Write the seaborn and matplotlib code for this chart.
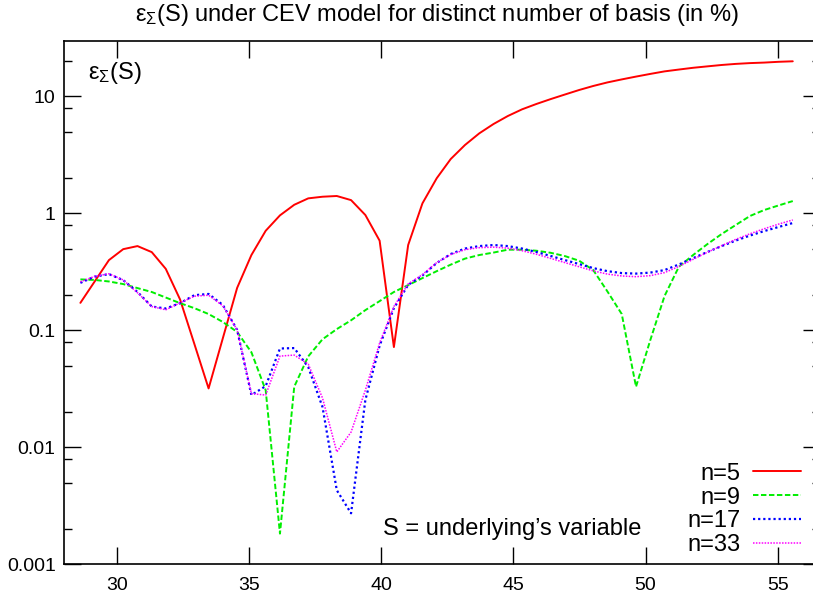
import matplotlib
matplotlib.use("Agg")
import matplotlib.pyplot as plt
import numpy as np
import pandas as pd
import seaborn as sns
from matplotlib.ticker import FixedLocator, FixedFormatter, LogLocator, NullFormatter

# Underlying's variable S (evaluation grid)
s_values = [28.62, 29.16, 29.70, 30.24, 30.78, 31.32, 31.85, 32.39, 32.93, 33.47,
            34.01, 34.55, 35.09, 35.63, 36.17, 36.71, 37.24, 37.78, 38.32, 38.86,
            39.40, 39.94, 40.48, 41.02, 41.56, 42.10, 42.63, 43.17, 43.71, 44.25,
            44.79, 45.33, 45.87, 46.41, 46.95, 47.49, 48.02, 48.56, 49.10, 49.64,
            50.18, 50.72, 51.26, 51.80, 52.34, 52.88, 53.41, 53.95, 54.49, 55.03,
            55.57]

# Relative error (in %) for each number of basis functions
err_n5 = [0.172, 0.262, 0.399, 0.495, 0.526, 0.467, 0.336, 0.184, 0.0768, 0.0319,
          0.0859, 0.231, 0.441, 0.711, 0.963, 1.186, 1.346, 1.39, 1.41, 1.30,
          0.97, 0.585, 0.072, 0.537, 1.22, 2.0, 2.92, 3.85, 4.84, 5.82,
          6.81, 7.77, 8.63, 9.5, 10.4, 11.37, 12.3, 13.2, 14.0, 14.8,
          15.6, 16.4, 17.0, 17.6, 18.1, 18.6, 19.0, 19.3, 19.5, 19.8,
          20.0]
err_n9 = [0.273, 0.27, 0.262, 0.249, 0.23, 0.213, 0.191, 0.171, 0.155, 0.138,
          0.118, 0.097, 0.065, 0.0308, 0.00183, 0.033, 0.06, 0.084, 0.1026, 0.122,
          0.149, 0.178, 0.213, 0.244, 0.28, 0.321, 0.365, 0.411, 0.441, 0.463,
          0.49, 0.49, 0.48, 0.461, 0.432, 0.394, 0.328, 0.215, 0.138, 0.033,
          0.0826, 0.197, 0.35, 0.441, 0.547, 0.667, 0.796, 0.951, 1.07, 1.17,
          1.276]
err_n17 = [0.255, 0.288, 0.303, 0.269, 0.213, 0.16, 0.154, 0.171, 0.2, 0.205,
           0.165, 0.101, 0.028, 0.0334, 0.07, 0.0706, 0.0486, 0.0221, 0.0043, 0.00273,
           0.0254, 0.074, 0.155, 0.245, 0.295, 0.377, 0.45, 0.501, 0.526, 0.537,
           0.526, 0.501, 0.468, 0.433, 0.399, 0.369, 0.341, 0.321, 0.309, 0.306,
           0.312, 0.328, 0.366, 0.415, 0.468, 0.526, 0.586, 0.647, 0.707, 0.766,
           0.828]
err_n33 = [0.26, 0.29, 0.305, 0.27, 0.21, 0.16, 0.15, 0.172, 0.196, 0.2,
           0.162, 0.101, 0.0288, 0.028, 0.0603, 0.0615, 0.0515, 0.0264, 0.00914, 0.0135,
           0.0308, 0.078, 0.16, 0.25, 0.3, 0.38, 0.445, 0.49, 0.51, 0.515,
           0.505, 0.48, 0.448, 0.413, 0.38, 0.35, 0.323, 0.303, 0.292, 0.288,
           0.294, 0.312, 0.352, 0.405, 0.466, 0.53, 0.6, 0.67, 0.74, 0.81,
           0.88]

series_labels = ["n=5", "n=9", "n=17", "n=33"]
x_ticks = [30, 35, 40, 45, 50, 55]
y_ticks = [0.001, 0.01, 0.1, 1, 10]
y_tick_labels = ["0.001", "0.01", "0.1", "1", "10"]

frames = []
for lab, vals in zip(series_labels, [err_n5, err_n9, err_n17, err_n33]):
    frames.append(pd.DataFrame({"S": s_values, "err": vals, "basis": lab}))
df = pd.concat(frames, ignore_index=True)

line_styles = {
    "n=5": dict(color="#ff0000", linewidth=1.4, linestyle="-"),
    "n=9": dict(color="#00ee00", linewidth=1.4, linestyle=(0, (2.8, 1.3))),
    "n=17": dict(color="#0000ff", linewidth=1.6, linestyle=(0, (1.0, 1.3))),
    "n=33": dict(color="#ff00ff", linewidth=1.1, linestyle=(0, (1.0, 0.9))),
}

sns.set_theme(style="ticks")
plt.rcParams["font.family"] = ["Liberation Sans", "DejaVu Sans"]
plt.rcParams["mathtext.fontset"] = "custom"
plt.rcParams["mathtext.rm"] = "Liberation Sans"
plt.rcParams["mathtext.it"] = "Liberation Sans:italic"
plt.rcParams["mathtext.default"] = "regular"
plt.rcParams["lines.dash_capstyle"] = "butt"
for key in ["text.color", "axes.labelcolor", "xtick.color", "ytick.color",
            "xtick.labelcolor", "ytick.labelcolor", "axes.edgecolor"]:
    plt.rcParams[key] = "black"

fig = plt.figure(figsize=(8.13, 5.99), dpi=100)
fig.patch.set_facecolor("white")
ax = fig.add_axes([64 / 813, 1 - 564.3 / 599, (820 - 64) / 813, (564.3 - 40.7) / 599])
ax.set_facecolor("white")

for lab in series_labels:
    sns.lineplot(data=df[df["basis"] == lab], x="S", y="err", ax=ax,
                 estimator=None, sort=False, legend=False, **line_styles[lab])

ax.set_yscale("log")
ax.set_xlim(28.0, 56.6)
ax.set_ylim(0.001, 30)

ax.xaxis.set_major_locator(FixedLocator(x_ticks))
ax.xaxis.set_major_formatter(FixedFormatter([str(t) for t in x_ticks]))
ax.yaxis.set_major_locator(FixedLocator(y_ticks))
ax.yaxis.set_major_formatter(FixedFormatter(y_tick_labels))
ax.yaxis.set_minor_locator(LogLocator(base=10, subs=(2.0, 5.0, 8.0), numticks=20))
ax.yaxis.set_minor_formatter(NullFormatter())
ax.set_xlabel("")
ax.set_ylabel("")

for sp in ax.spines.values():
    sp.set_visible(True)
    sp.set_linewidth(1.2)
    sp.set_color("black")

ax.tick_params(axis="both", which="both", direction="in", top=True, right=True,
               color="black", width=1.0)
ax.tick_params(axis="both", which="major", length=12, labelsize=14, labelcolor="black")
ax.tick_params(axis="y", which="minor", length=6)
ax.tick_params(axis="y", which="major", pad=6)
ax.tick_params(axis="x", which="major", pad=9)

handles = ax.get_lines()[:4]
leg = ax.legend(handles, series_labels, loc="center right",
                bbox_to_anchor=(801 / 813, 1 - 509.5 / 599), bbox_transform=fig.transFigure,
                frameon=False, markerfirst=False, handlelength=2.05, handletextpad=0.5,
                labelspacing=0.08, borderpad=0, borderaxespad=0, fontsize=17)
for t in leg.get_texts():
    t.set_color("black")

fig.text(383 / 813, 1 - 529 / 599, "S = underlying\u2019s variable",
         ha="left", va="center", fontsize=17, color="black")
fig.text(88 / 813, 1 - 73 / 599, r"ε$_{\Sigma}$(S)",
         ha="left", va="center", fontsize=17, color="black")
fig.text(437 / 813, 1 - 15 / 599,
         r"ε$_{\Sigma}$(S) under CEV model for distinct number of basis (in %)",
         ha="center", va="center", fontsize=17, color="black")

fig.savefig("out.png", dpi=100)
